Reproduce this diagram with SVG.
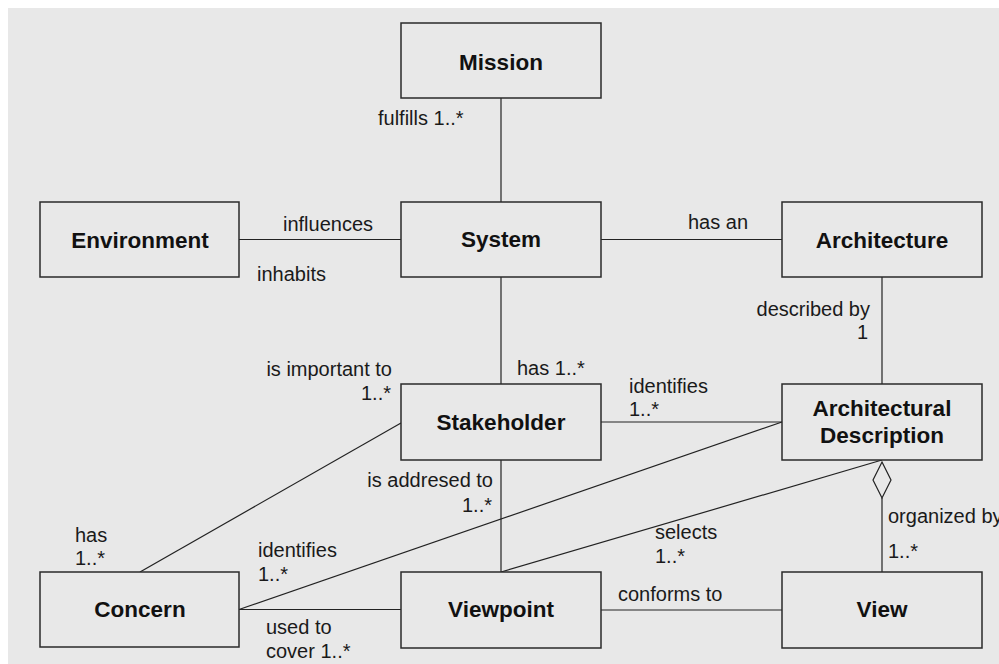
<svg xmlns="http://www.w3.org/2000/svg" width="999" height="664" viewBox="0 0 999 664">
<style>
.box{fill:#e8e8e8;stroke:#2a2a2a;stroke-width:1.5}
.ttl{font-family:"Liberation Sans",Arial,sans-serif;font-size:22.5px;font-weight:bold;fill:#111;text-anchor:middle}
.lbl{font-family:"Liberation Sans",Arial,sans-serif;font-size:20px;fill:#1a1a1a}
.end{text-anchor:end}
.ln{stroke:#222;stroke-width:1.2;fill:none}
</style>
<rect x="0" y="0" width="999" height="664" fill="#ffffff"/>
<rect x="8" y="8" width="991" height="656" fill="#e8e8e8"/>
<g id="connectors">
<line class="ln" x1="501" y1="98" x2="501" y2="202"/>
<line class="ln" x1="239" y1="239.5" x2="401" y2="239.5"/>
<line class="ln" x1="601" y1="239.5" x2="782" y2="239.5"/>
<line class="ln" x1="882" y1="277" x2="882" y2="384"/>
<line class="ln" x1="501" y1="277" x2="501" y2="384"/>
<line class="ln" x1="601" y1="422" x2="782" y2="422"/>
<line class="ln" x1="401" y1="423" x2="140" y2="572"/>
<line class="ln" x1="239" y1="609.5" x2="782" y2="422"/>
<line class="ln" x1="501" y1="572" x2="882" y2="460"/>
<line class="ln" x1="501" y1="460" x2="501" y2="572"/>
<line class="ln" x1="239" y1="609.5" x2="401" y2="609.5"/>
<line class="ln" x1="601" y1="610" x2="782" y2="610"/>
<line class="ln" x1="882" y1="498" x2="882" y2="572"/>
<polygon points="882,462 891,480 882,498 873,480" fill="#e8e8e8" stroke="#222" stroke-width="1.2"/>
</g>
<g id="mission"><rect class="box" x="401" y="23" width="200" height="75"/><text class="ttl" x="501" y="70">Mission</text></g>
<g id="environment"><rect class="box" x="40" y="202" width="199" height="75"/><text class="ttl" x="140" y="248">Environment</text></g>
<g id="system"><rect class="box" x="401" y="202" width="200" height="75"/><text class="ttl" x="501" y="247">System</text></g>
<g id="architecture"><rect class="box" x="782" y="202" width="200" height="75"/><text class="ttl" x="882" y="248">Architecture</text></g>
<g id="stakeholder"><rect class="box" x="401" y="384" width="200" height="76"/><text class="ttl" x="501" y="430">Stakeholder</text></g>
<g id="architectural-description"><rect class="box" x="782" y="384" width="200" height="76"/><text class="ttl" x="882" y="416">Architectural</text><text class="ttl" x="882" y="443">Description</text></g>
<g id="concern"><rect class="box" x="40" y="572" width="199" height="75"/><text class="ttl" x="140" y="617">Concern</text></g>
<g id="viewpoint"><rect class="box" x="401" y="572" width="200" height="76"/><text class="ttl" x="501" y="617">Viewpoint</text></g>
<g id="view"><rect class="box" x="782" y="572" width="200" height="76"/><text class="ttl" x="882" y="617">View</text></g>
<g id="labels">
<text class="lbl" x="378" y="125">fulfills 1..*</text>
<text class="lbl" x="283" y="231">influences</text>
<text class="lbl" x="257" y="281">inhabits</text>
<text class="lbl" x="688" y="229">has an</text>
<text class="lbl end" x="870" y="316">described by</text>
<text class="lbl end" x="868" y="339">1</text>
<text class="lbl" x="517" y="375">has 1..*</text>
<text class="lbl end" x="392" y="376">is important to</text>
<text class="lbl end" x="391" y="400">1..*</text>
<text class="lbl" x="629" y="393">identifies</text>
<text class="lbl" x="629" y="416">1..*</text>
<text class="lbl end" x="493" y="487">is addresed to</text>
<text class="lbl end" x="492" y="512">1..*</text>
<text class="lbl" x="655" y="539">selects</text>
<text class="lbl" x="655" y="563">1..*</text>
<text class="lbl" x="618" y="601">conforms to</text>
<text class="lbl" x="888" y="523">organized by</text>
<text class="lbl" x="888" y="558">1..*</text>
<text class="lbl" x="75" y="542">has</text>
<text class="lbl" x="75" y="565">1..*</text>
<text class="lbl" x="258" y="557">identifies</text>
<text class="lbl" x="258" y="581">1..*</text>
<text class="lbl" x="266" y="634">used to</text>
<text class="lbl" x="266" y="658">cover 1..*</text>
</g>
</svg>
